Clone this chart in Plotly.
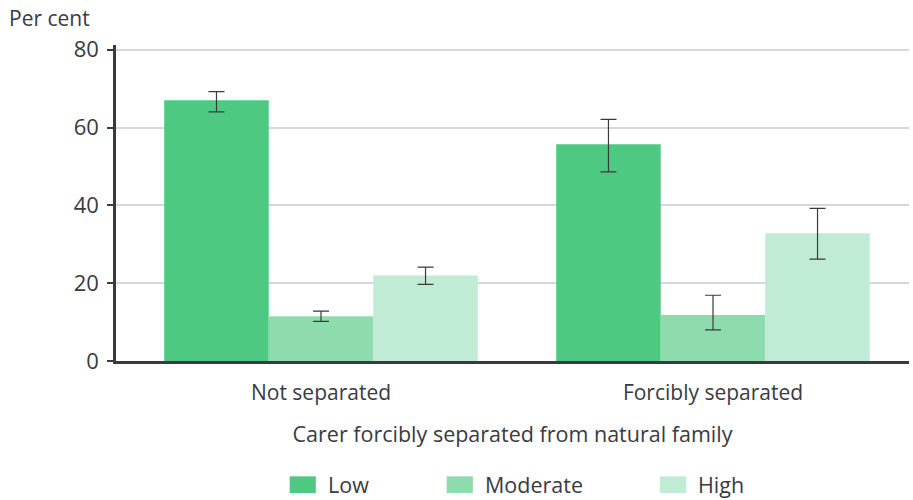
import plotly.graph_objects as go

# Carer separation groups and distress levels
categories = ["Not separated", "Forcibly separated"]
levels = ["Low", "Moderate", "High"]

low_vals = [67.0, 55.7]
moderate_vals = [11.5, 11.8]
high_vals = [22.0, 32.8]

# Confidence interval bounds (upper / lower)
low_upper = [69.2, 62.1]
low_lower = [64.0, 48.6]
moderate_upper = [12.8, 16.9]
moderate_lower = [10.2, 8.0]
high_upper = [24.1, 39.2]
high_lower = [19.7, 26.2]

colors = ["#4ec981", "#8edcae", "#c0ebd4"]

series = [
    (low_vals, low_upper, low_lower),
    (moderate_vals, moderate_upper, moderate_lower),
    (high_vals, high_upper, high_lower),
]

font_family = "Open Sans, Noto Sans, sans-serif"
text_color = "#3a3a3f"

fig = go.Figure()
for name, color, (vals, up, lo) in zip(levels, colors, series):
    fig.add_trace(go.Bar(
        x=categories,
        y=vals,
        name=name,
        marker=dict(color=color, line=dict(width=0)),
        error_y=dict(
            type="data",
            symmetric=False,
            array=[u - v for u, v in zip(up, vals)],
            arrayminus=[v - l for v, l in zip(vals, lo)],
            color="#3a3a3a",
            thickness=1.2,
            width=8,
        ),
        showlegend=False,
    ))

# Legend drawn as swatches with labels beneath the axis title
legend_x = [0.219, 0.417, 0.686]
for name, color, lx in zip(levels, colors, legend_x):
    fig.add_shape(
        type="rect", xref="paper", yref="paper",
        x0=lx, x1=lx + 0.033, y0=-0.418, y1=-0.365,
        fillcolor=color, line=dict(width=0),
    )
    fig.add_annotation(
        xref="paper", yref="paper", x=lx + 0.046, y=-0.392,
        text=name, showarrow=False, xanchor="left", yanchor="middle",
        font=dict(size=21.5, color=text_color, family=font_family),
    )

fig.add_annotation(
    xref="paper", yref="paper", x=-0.137, y=1.035,
    text="Per cent", showarrow=False, xanchor="left", yanchor="bottom",
    font=dict(size=21, color=text_color, family=font_family),
)

fig.update_layout(
    width=913, height=500,
    margin=dict(l=116, r=4, t=45, b=139),
    paper_bgcolor="white",
    plot_bgcolor="white",
    barmode="group",
    bargap=0.2,
    bargroupgap=0,
    font=dict(family=font_family, color=text_color, size=21),
)
fig.update_xaxes(
    range=[-0.523, 1.5],
    showline=True, linecolor="#3a3a3f", linewidth=2.5,
    ticks="", showgrid=False,
    tickfont=dict(size=21, color=text_color),
    ticklabelstandoff=11,
    title=dict(text="Carer forcibly separated from natural family",
               font=dict(size=21.5, color=text_color), standoff=22),
)
fig.update_yaxes(
    range=[0, 81.2],
    tickvals=[0, 20, 40, 60, 80],
    showline=True, linecolor="#3a3a3f", linewidth=2.5,
    ticks="outside", ticklen=6, tickcolor="#3a3a3f", tickwidth=1.5,
    showgrid=True, gridcolor="#d6d6de", gridwidth=2,
    zeroline=False,
    tickfont=dict(size=22, color=text_color),
    ticklabelstandoff=4,
)

fig.write_html("out.html")
